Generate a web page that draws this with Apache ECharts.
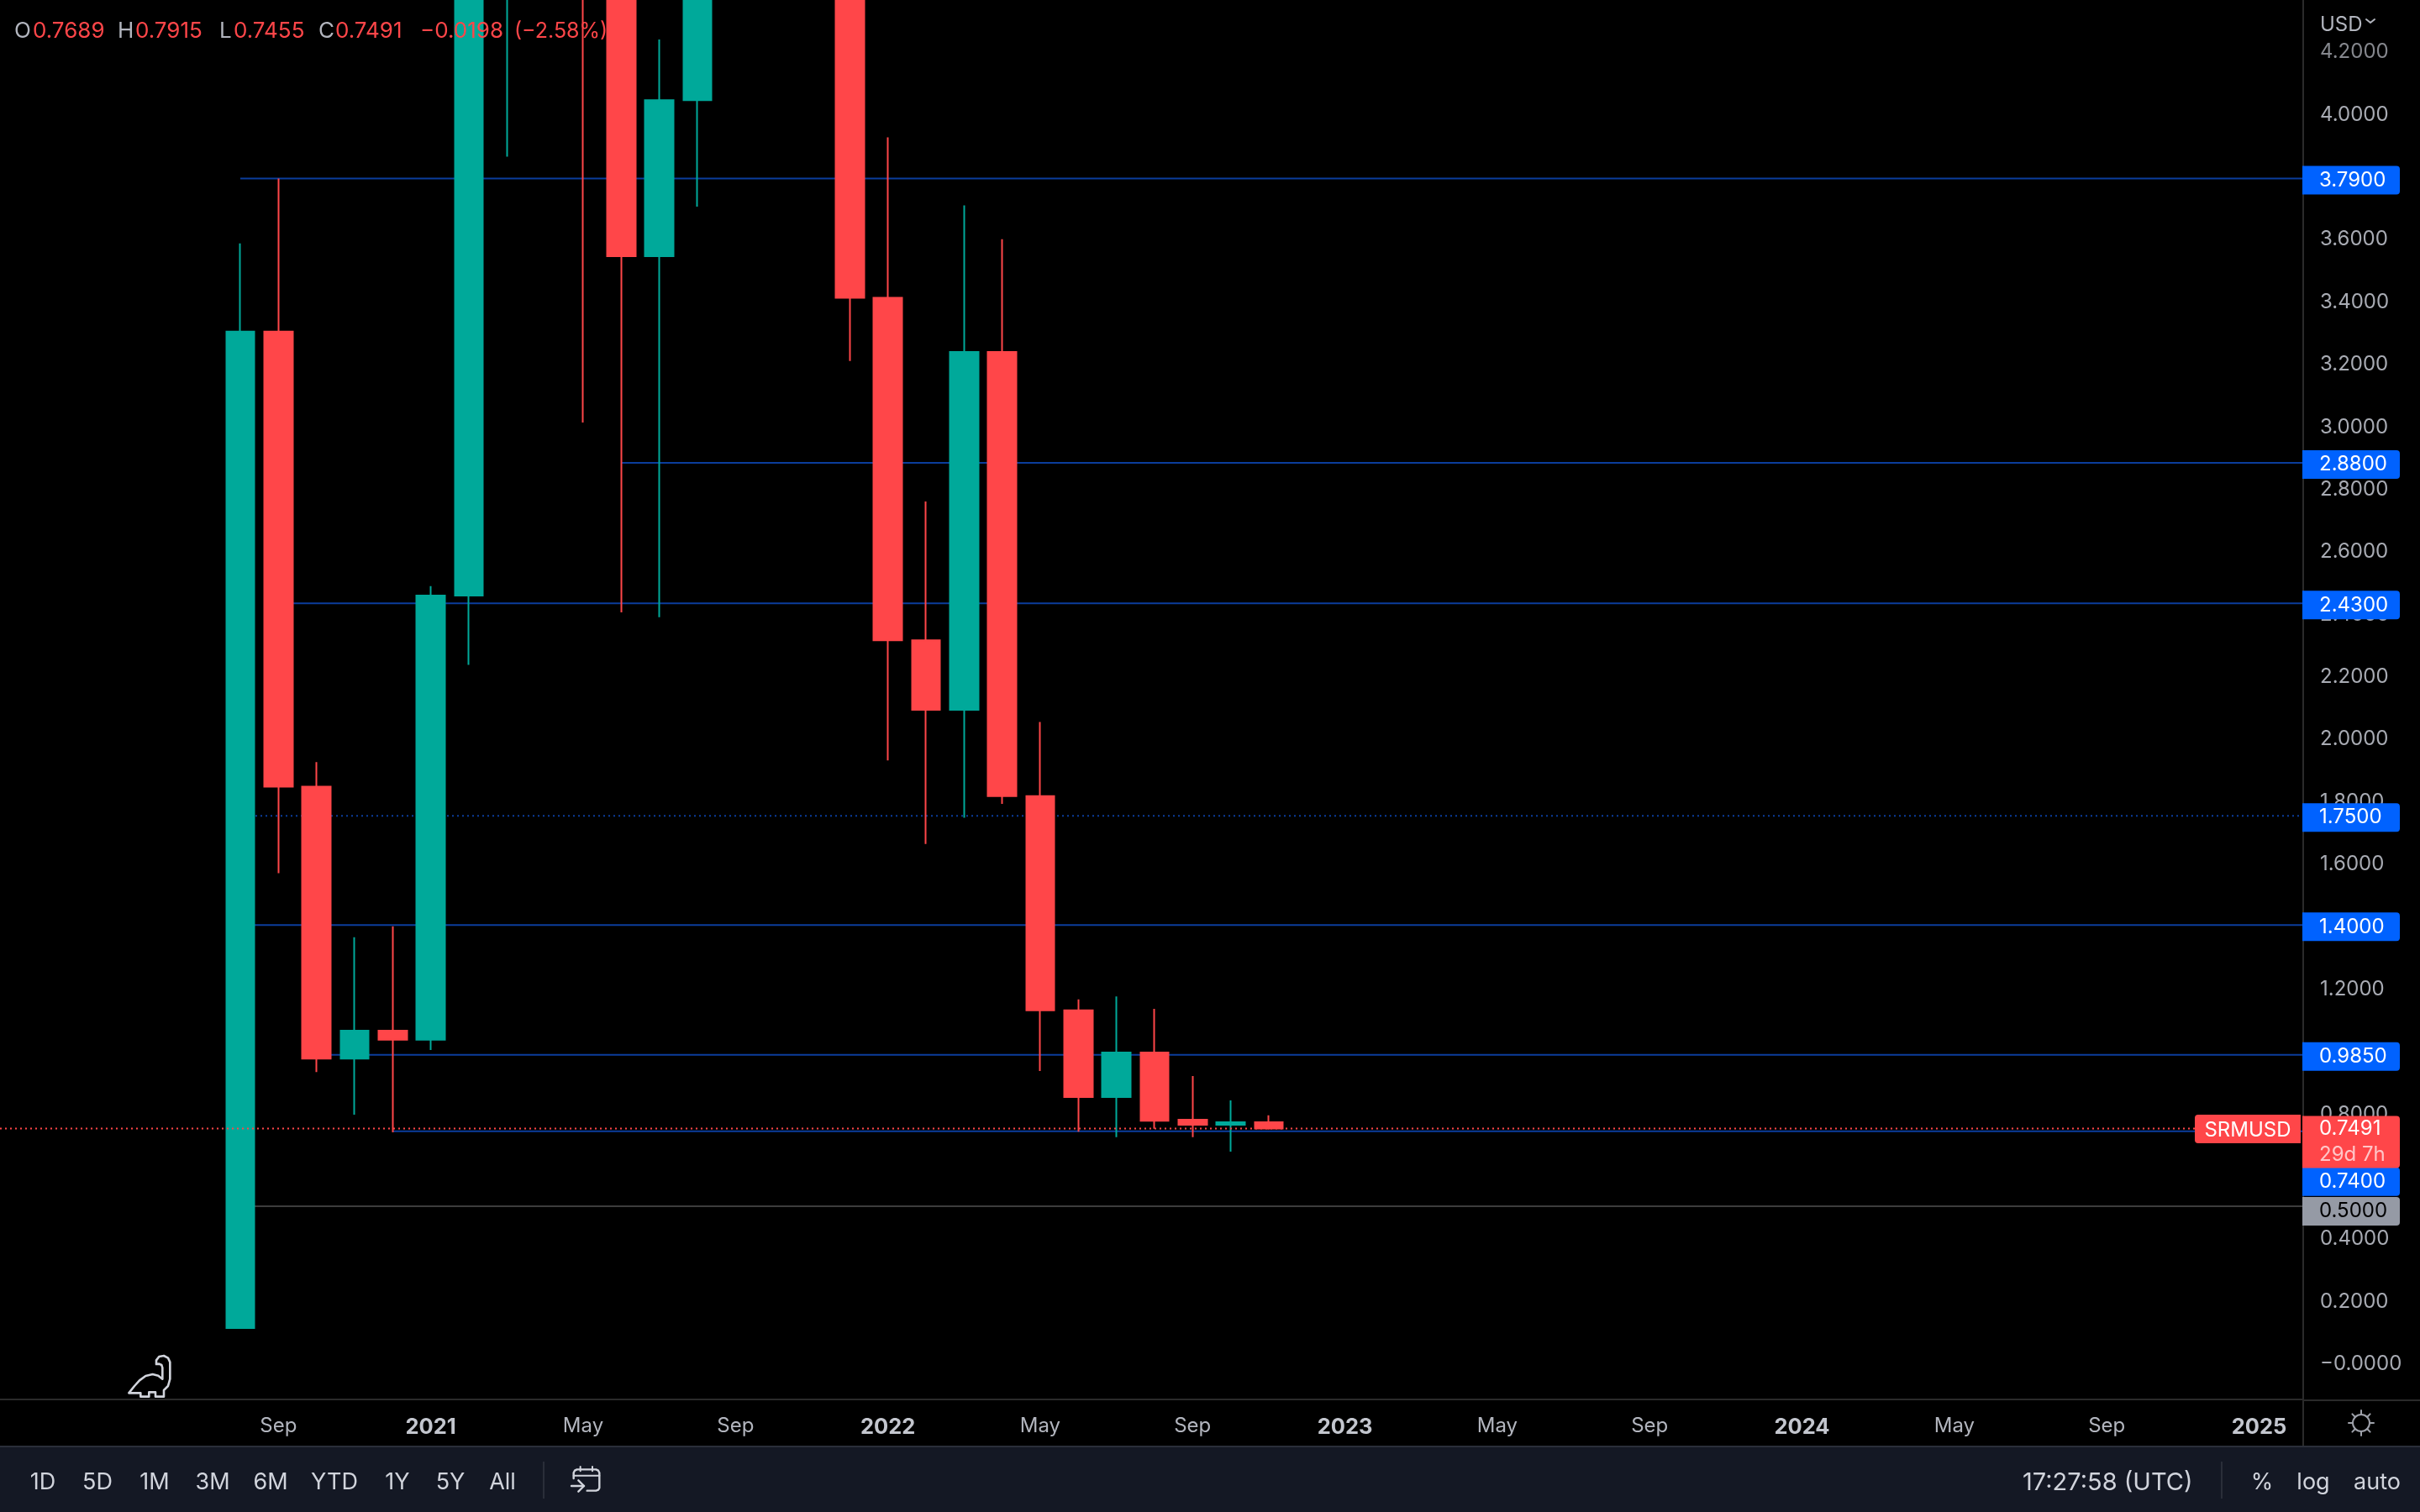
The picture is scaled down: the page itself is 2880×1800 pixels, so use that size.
<!DOCTYPE html>
<html><head><meta charset="utf-8">
<style>html,body{margin:0;padding:0;background:#000}#c{width:2880px;height:1800px}</style>
<script src="https://cdn.jsdelivr.net/npm/echarts@6/dist/echarts.min.js"></script>
</head><body><div id="c"></div>
<script>
// ---- data (month index 0 = Aug 2020) ----
const months = ['2020-08','2020-09','2020-10','2020-11','2020-12','2021-01','2021-02','2021-03','2021-04','2021-05','2021-06','2021-07','2021-08','2021-09','2021-10','2021-11','2021-12','2022-01','2022-02','2022-03','2022-04','2022-05','2022-06','2022-07','2022-08','2022-09','2022-10','2022-11'];
const opens  = [0.110,3.300,1.843,0.973,1.062,1.033,2.455,5.600,7.400,11.00,6.300,3.541,4.041,8.000,7.500,11.00,7.000,3.408,2.312,2.089,3.235,1.813,1.127,0.850,0.992,0.777,0.761,0.7689];
const closes = [3.300,1.843,0.973,1.062,1.033,2.455,5.600,7.400,11.00,6.300,3.541,4.041,8.000,7.500,11.00,7.000,3.408,2.312,2.089,3.235,1.813,1.127,0.850,0.992,0.774,0.761,0.7689,0.7491];
const lows   = [0.110,1.566,0.930,0.793,0.737,1.000,2.233,3.860,6.000,3.009,2.401,2.386,3.700,6.500,6.800,6.200,3.206,1.927,1.660,1.744,1.788,0.933,0.739,0.721,0.748,0.721,0.675,0.7455];
const highs  = [3.582,3.790,1.922,1.361,1.396,2.485,6.600,9.000,13.00,13.50,7.000,4.235,9.000,9.500,12.00,12.50,7.400,3.922,2.756,3.704,3.596,2.050,1.162,1.172,1.132,0.917,0.839,0.7915];

const priceTicks = [0,0.2,0.4,0.6,0.8,1.0,1.2,1.4,1.6,1.8,2.0,2.2,2.4,2.6,2.8,3.0,3.2,3.4,3.6,3.8,4.0,4.2];
const timeTickMonths = [1,5,9,13,17,21,25,29,33,37,41,45,49,53];
const timeTickLabels = ['Sep','2021','May','Sep','2022','May','Sep','2023','May','Sep','2024','May','Sep','2025'];

const levelNames   = ['3.7900','2.8800','2.4300','1.7500','1.4000','0.9850','0.7400','0.5000'];
const levelValues  = [3.79,2.88,2.43,1.75,1.40,0.985,0.74,0.50];
const levelStarts  = [0,10,1,0,0,2,4,0];          // month index where each level begins
const levelDotted  = [false,false,false,true,false,false,false,false];
const levelGrey    = [false,false,false,false,false,false,false,true];
const levelShift   = [2,2,2,2,2,2,60,6];          // label nudged so boxes stack
const lastPrice = 0.7491;
const lastPriceLabel = '0.7491';
const countdown = '29d 7h';
const symbolName = 'SRMUSD';
const rangeButtons = ['1D','5D','1M','3M','6M','YTD','1Y','5Y','All'];
const rangeCentres = [51,116,184,253,322,398,473,536,598];

const UP='#00a99a', DOWN='#ff4649', BLUE='#0b3d9c', FONT='Inter, "Noto Sans", sans-serif';
const AXISC='#2a2a2a', TXT='#b2b5be', TB='#d1d4dc', MUTED='#9ea1aa';
const PLOT_R=2741, PLOT_B=1666, PX_MONTH=45.33, X0=286, PX_UNIT=371.9, Y0=1622;
const xMin=-X0/PX_MONTH, xMax=(PLOT_R-X0)/PX_MONTH;
const yMin=(Y0-PLOT_B)/PX_UNIT, yMax=Y0/PX_UNIT;

const candles = months.map((m,i)=>[i,opens[i],closes[i],lows[i],highs[i]]);

function txt(text,x,y,fill,size,o){o=o||{};const a=o.align||'left';return {type:'text',z:o.z||50,silent:true,style:{text,x,y,fill,font:(o.weight||400)+' '+size+'px '+FONT,align:a,textAlign:a,verticalAlign:'middle',textVerticalAlign:'middle'}};}
function line(pts,stroke,w,z){return {type:'polyline',z:z||50,silent:true,shape:{points:pts},style:{stroke,lineWidth:w,fill:null,lineCap:'round',lineJoin:'round'}};}
const dz=(a,b)=>[140+a/3,1600+b/3], cz=(a,b)=>[660+a/3,1730+b/3];

const dinoPts=[[40,175],[60,150],[78,130],[100,114],[125,108],[145,113],[160,125],[160,85],[157,75],[148,71],[138,72],[138,58],[148,45],[165,42],[180,50],[187,65],[187,125],[180,150],[165,165],[165,188],[135,188],[135,172],[112,172],[112,188],[82,188],[82,175]].map(p=>dz(p[0],p[1]));

const sunRays=[];
for(let k=0;k<8;k++){const a=k*Math.PI/4;sunRays.push(line([[2810+10*Math.cos(a),1694+10*Math.sin(a)],[2810+15*Math.cos(a),1694+15*Math.sin(a)]],MUTED,2));}

const chrome=[
 {type:'rect',z:40,silent:true,shape:{x:0,y:1722,width:2880,height:78},style:{fill:'#141824'}},
 {type:'rect',z:41,silent:true,shape:{x:0,y:1721,width:2880,height:2},style:{fill:'#2a2e39'}},
 {type:'rect',z:41,silent:true,shape:{x:2741,y:PLOT_B,width:139,height:2},style:{fill:AXISC}},
 {type:'rect',z:41,silent:true,shape:{x:2740,y:PLOT_B,width:2,height:55},style:{fill:AXISC}},
 {type:'rect',z:41,silent:true,shape:{x:646,y:1740,width:2,height:44},style:{fill:'#2a2e39'}},
 {type:'rect',z:41,silent:true,shape:{x:2643,y:1740,width:2,height:44},style:{fill:'#2a2e39'}},
 ...rangeButtons.map((t,i)=>txt(t,rangeCentres[i],1765,TB,27,{align:'center'})),
 txt('17:27:58 (UTC)',2407,1765,TB,29),
 txt('%',2692,1765,TB,27,{align:'center'}),
 txt('log',2753,1765,TB,27,{align:'center'}),
 txt('auto',2829,1765,TB,27,{align:'center'}),
 // calendar icon
 line([cz(68,90),cz(68,70),cz(72,62),cz(80,58),cz(148,58),cz(156,62),cz(160,70),cz(160,124),cz(156,131),cz(148,134),cz(116,134)],TB,2.4),
 line([cz(68,80),cz(160,80)],TB,2),
 line([cz(92,48),cz(92,64)],TB,2),line([cz(135,48),cz(135,64)],TB,2),
 line([cz(60,117),cz(105,117)],TB,2.4),line([cz(85,97),cz(105,117),cz(85,137)],TB,2.4),
 // dino
 {type:'polygon',z:50,silent:true,shape:{points:dinoPts},style:{stroke:'#d1d4dc',lineWidth:2.6,fill:'#000',lineJoin:'round'}},
 // sun
 {type:'circle',z:50,silent:true,shape:{cx:2810,cy:1694,r:10},style:{stroke:MUTED,lineWidth:2,fill:null}},
 ...sunRays,
 // currency
 txt('USD',2761,29.5,TXT,24),
 line([[2816,23],[2821,27],[2826,23]],TXT,2),
 // symbol tag on the price line
 {type:'rect',z:45,silent:true,shape:{x:2612,y:1327,width:126,height:34,r:[4,0,0,4]},style:{fill:DOWN}},
 txt(symbolName,2675,1345.5,'#fff',24,{align:'center',z:46}),
 // OHLC legend
 txt('O',17,37,TXT,26),txt('0.7689',39,37,DOWN,26),
 txt('H',140,37,TXT,26),txt('0.7915',161,37,DOWN,26),
 txt('L',261,37,TXT,26),txt('0.7455',278,37,DOWN,26),
 txt('C',379,37,TXT,26),txt('0.7491',399,37,DOWN,26),
 txt('\u22120.0198',500,37,DOWN,26),
 txt('(\u22122.58%)',612,37,DOWN,25),
];

const levelSeries = levelValues.map((v,i)=>({
  type:'line', name:levelNames[i], z:1, silent:true, symbol:'none',
  data:[[levelStarts[i],v],[xMax,v]],
  lineStyle:{color:levelGrey[i]?'#3c3c3c':BLUE,width:2,type:levelDotted[i]?[2,4]:'solid'},
  endLabel:{show:true,formatter:()=>levelNames[i],distance:0,offset:[-1,levelShift[i]],
    color:levelGrey[i]?'#000':'#fff',fontFamily:FONT,fontSize:24,lineHeight:34,
    backgroundColor:levelGrey[i]?'#959aa5':'#0062ff',borderRadius:[0,4,4,0],
    width:96,height:34,padding:[0,0,0,20],align:'left',verticalAlign:'middle'}
}));

const option={
 backgroundColor:'#000',animation:false,
 grid:{left:0,top:0,width:PLOT_R,height:PLOT_B},
 xAxis:{type:'value',min:xMin,max:xMax,
   axisLine:{show:true,onZero:false,lineStyle:{color:AXISC,width:2}},axisTick:{show:false},splitLine:{show:false},
   axisLabel:{customValues:timeTickMonths,margin:20,fontFamily:FONT,fontSize:24,color:TXT,
     formatter:v=>{const t=timeTickLabels[timeTickMonths.indexOf(v)];return /^\d/.test(t)?'{y|'+t+'}':t;},
     rich:{y:{fontFamily:FONT,fontSize:25.5,fontWeight:700,color:'#c3c6ce'}}}},
 yAxis:{type:'value',position:'right',min:yMin,max:yMax,
   axisLine:{show:true,onZero:false,lineStyle:{color:AXISC,width:2}},axisTick:{show:false},splitLine:{show:false},
   axisLabel:{customValues:priceTicks,margin:20,fontFamily:FONT,fontSize:24,align:'left',verticalAlign:'top',lineHeight:4,
     color:v=>v>4.1?'#85878d':'#a8abb3',
     formatter:v=>v===0?'\u22120.0000':v.toFixed(4)}},
 series:[
  ...levelSeries,
  {type:'candlestick',name:symbolName,z:2,silent:true,barWidth:34,data:candles,encode:{x:0,y:[1,2,3,4]},clip:true,
   itemStyle:{color:UP,color0:DOWN,borderColor:UP,borderColor0:DOWN,borderWidth:2}},
  {type:'line',name:'last',z:3,silent:true,symbol:'none',data:[[xMin,lastPrice],[xMax,lastPrice]],
   lineStyle:{color:DOWN,width:2,type:[2,4]},
   endLabel:{show:true,formatter:()=>'{p|'+lastPriceLabel+'}\n{t|'+countdown+'}',distance:0,offset:[-1,16],align:'left',verticalAlign:'middle',
     backgroundColor:DOWN,borderRadius:[0,4,4,0],padding:[0,0,0,20],width:96,
     rich:{p:{fontFamily:FONT,fontSize:24,color:'#fff',lineHeight:31,width:96},t:{fontFamily:FONT,fontSize:24,color:'#ffc6c8',lineHeight:31,width:96}}}},
 ],
 graphic:chrome
};
echarts.init(document.getElementById('c')).setOption(option);
</script></body></html>
